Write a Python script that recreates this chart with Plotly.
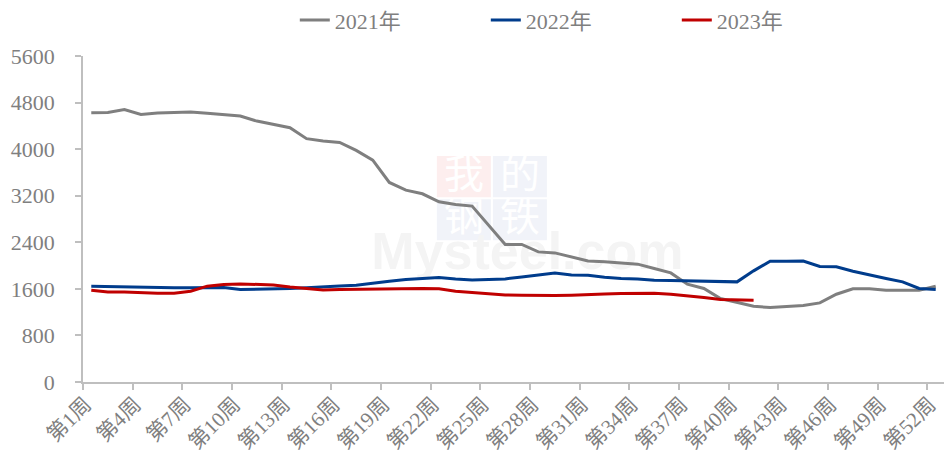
import plotly.graph_objects as go

weeks = list(range(1, 53))
tick_weeks = list(range(1, 53, 3))
tick_text = [f"第{w}周" for w in tick_weeks]

y2021 = [4625, 4630, 4680, 4595, 4620, 4632, 4640, 4615, 4592, 4570,
         4482, 4425, 4368, 4180, 4140, 4116, 3978, 3812, 3428, 3296,
         3233, 3095, 3050, 3021, 2694, 2362, 2362, 2235, 2218, 2149,
         2078, 2066, 2047, 2024, 1950, 1874, 1680, 1606, 1434, 1365,
         1302, 1279, 1302, 1313, 1359, 1508, 1600, 1600, 1577, 1577,
         1577, 1646]
y2022 = [1646, 1640, 1628, 1623, 1623, 1617, 1617, 1617, 1623, 1589,
         1594, 1594, 1606, 1617, 1640, 1651, 1663, 1703, 1731, 1760,
         1780, 1795, 1771, 1754, 1760, 1771, 1805, 1840, 1874, 1840,
         1832, 1800, 1777, 1771, 1749, 1743, 1737, 1731, 1720, 1720,
         1909, 2075, 2075, 2078, 1984, 1978, 1903, 1834, 1777, 1720,
         1606, 1589]
y2023 = [1577, 1548, 1548, 1531, 1525, 1525, 1560, 1646, 1674, 1685,
         1674, 1668, 1630, 1606, 1580, 1589, 1594, 1594, 1594, 1598,
         1604, 1600, 1560, 1537, 1513, 1496, 1491, 1485, 1485, 1491,
         1505, 1513, 1519, 1525, 1525, 1508, 1485, 1451, 1416, 1405,
         1405]

series = [("2021年", y2021, "#7f7f7f"),
          ("2022年", y2022, "#003c8c"),
          ("2023年", y2023, "#c00000")]

FONT = "Liberation Serif, Times New Roman, Noto Sans CJK SC, serif"
GRAY_TXT = "#7f7f7f"
AXIS = "#bfbfbf"

fig = go.Figure()
for name, vals, col in series:
    fig.add_trace(go.Scatter(x=weeks[:len(vals)], y=vals, name=name,
                             mode="lines", line=dict(color=col, width=3),
                             hoverinfo="skip"))

# faint watermark (below traces)
def px2paper_x(px):
    return (px - 83.3) / 860.6

def px2paper_y(py):
    return (381.7 - py) / 325.7

wm = [("我", 437, 491, 156, 197, "#fdeeee"),
      ("的", 493, 547, 156, 197, "#f1f3f9"),
      ("钢", 437, 491, 199, 240, "#f1f3f9"),
      ("铁", 493, 547, 199, 240, "#f1f3f9")]
shapes = []
for ch, x0, x1, y0, y1, bg in wm:
    shapes.append(dict(type="rect", xref="paper", yref="paper",
                       x0=px2paper_x(x0), x1=px2paper_x(x1),
                       y0=px2paper_y(y1), y1=px2paper_y(y0),
                       fillcolor=bg, line=dict(width=0), layer="below",
                       label=dict(text=ch, font=dict(family="Noto Sans CJK SC", size=40, color="white"))))
shapes.append(dict(type="rect", xref="paper", yref="paper",
                   x0=px2paper_x(395), x1=px2paper_x(660),
                   y0=px2paper_y(268), y1=px2paper_y(224),
                   fillcolor="rgba(0,0,0,0)", line=dict(width=0), layer="below",
                   label=dict(text="<b>Mysteel.com</b>",
                              font=dict(family="Liberation Sans", size=52, color="#f4f4f4"))))

fig.update_layout(
    width=949, height=461,
    margin=dict(l=83.3, r=5.1, t=56, b=79.3, autoexpand=False),
    paper_bgcolor="white", plot_bgcolor="white",
    font=dict(family=FONT, color=GRAY_TXT, size=22),
    showlegend=True,
    legend=dict(orientation="h", x=0.246, xanchor="left", y=1.11, yanchor="middle",
                font=dict(family=FONT, size=22, color=GRAY_TXT),
                entrywidth=146, entrywidthmode="pixels",
                bgcolor="rgba(0,0,0,0)"),
    shapes=shapes,
    xaxis=dict(range=[0.5, 52.5], tickmode="array", tickvals=tick_weeks, ticktext=tick_text,
               tickangle=-45, ticks="", showgrid=False, zeroline=False, automargin=False,
               showline=True, linecolor=AXIS, linewidth=1.5, ticklabelshift=-6,
               tickfont=dict(family=FONT, size=21, color=GRAY_TXT),
               minor=dict(tickmode="linear", tick0=0.5, dtick=3, ticks="outside",
                          ticklen=6, tickcolor=AXIS, tickwidth=1.5, showgrid=False)),
    yaxis=dict(range=[0, 5600], tickmode="linear", tick0=0, dtick=800, automargin=False,
               ticks="outside", ticklen=6, tickcolor=AXIS, tickwidth=1.5,
               showgrid=False, zeroline=False, showline=True, linecolor=AXIS, linewidth=1.5,
               ticklabelstandoff=16,
               tickfont=dict(family=FONT, size=22, color=GRAY_TXT)),
)

fig.write_html("out.html", config={"displayModeBar": False},
               post_script="document.body.style.margin='0';document.body.style.overflow='hidden';")
